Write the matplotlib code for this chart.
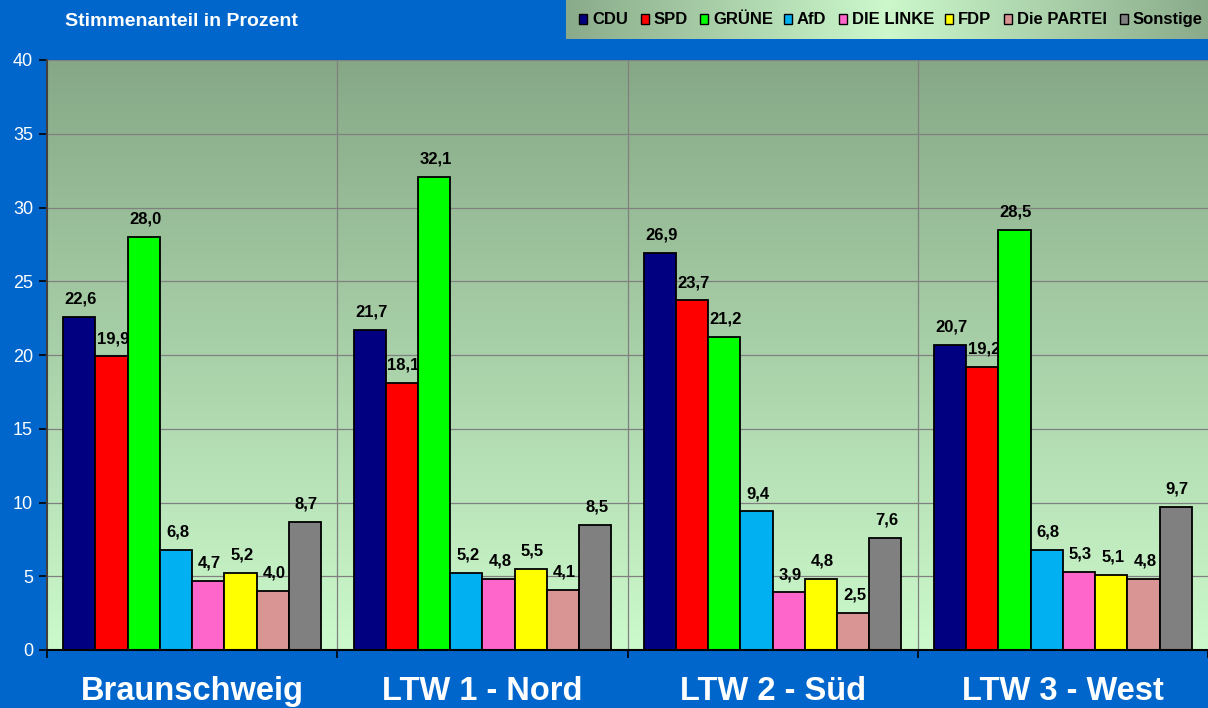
import numpy as np
import matplotlib
matplotlib.use("Agg")
import matplotlib.pyplot as plt
from matplotlib.colors import LinearSegmentedColormap
from matplotlib.patches import Rectangle

plt.rcParams['font.family'] = ['Liberation Sans', 'DejaVu Sans']

categories = ["Braunschweig", "LTW 1 - Nord", "LTW 2 - Süd", "LTW 3 - West"]
parties = ["CDU", "SPD", "GRÜNE", "AfD", "DIE LINKE", "FDP", "Die PARTEI", "Sonstige"]
colors = ["#000080", "#ff0000", "#00ff00", "#00b0f0", "#ff66cc", "#ffff00", "#d99594", "#808080"]
values = {
    "CDU":        [22.6, 21.7, 26.9, 20.7],
    "SPD":        [19.9, 18.1, 23.7, 19.2],
    "GRÜNE":      [28.0, 32.1, 21.2, 28.5],
    "AfD":        [6.8, 5.2, 9.4, 6.8],
    "DIE LINKE":  [4.7, 4.8, 3.9, 5.3],
    "FDP":        [5.2, 5.5, 4.8, 5.1],
    "Die PARTEI": [4.0, 4.1, 2.5, 4.8],
    "Sonstige":   [8.7, 8.5, 7.6, 9.7],
}
yticks = [0, 5, 10, 15, 20, 25, 30, 35, 40]

W, H = 1208, 708
fig = plt.figure(figsize=(W/100, H/100), dpi=100)
fig.patch.set_facecolor("#0066cc")

ax = fig.add_axes([47/W, 58/H, 1161/W, 590/H])
grad = LinearSegmentedColormap.from_list("g", ["#ccfacc", "#86a886"])
ax.imshow(np.linspace(0, 1, 256).reshape(-1, 1), cmap=grad, aspect='auto',
          extent=[0, 1, 0, 1], transform=ax.transAxes, zorder=0, origin='lower')

n = len(parties)
bw = 0.111
start = 0.5 - n * bw / 2
x = np.arange(len(categories))
for i, p in enumerate(parties):
    xs = x + start + (i + 0.5) * bw
    ax.bar(xs, values[p], width=bw, color=colors[i], edgecolor="black", linewidth=1.3, zorder=3)
    for xi, v in zip(xs, values[p]):
        ax.text(xi + 0.005, v + 0.7, f"{v:.1f}".replace(".", ","), ha="center", va="bottom",
                fontsize=12, fontweight="bold", color="black", zorder=2.5)

ax.set_xlim(0, 1161 / 290.5)
ax.set_ylim(0, 40)
ax.set_yticks(yticks)
ax.set_yticklabels([str(t) for t in yticks], color="white", fontsize=13)
ax.set_xticks([0, 1, 2, 3, 4])
ax.set_xticklabels([])
ax.tick_params(axis='y', length=6, color="black", width=1.2, pad=4)
ax.tick_params(axis='x', length=6, color="black", width=1.2, direction='out')
for yv in yticks[1:]:
    ax.axhline(yv, color="#808080", linewidth=0.9, zorder=1)
for xv in [1, 2, 3]:
    ax.axvline(xv, color="#808080", linewidth=0.9, zorder=1)
for s in ["top", "right"]:
    ax.spines[s].set_visible(False)
ax.spines["left"].set_color("#404040")
ax.spines["left"].set_linewidth(1.5)
ax.spines["bottom"].set_color("black")
ax.spines["bottom"].set_linewidth(1.5)
ax.spines["left"].set_zorder(5)
ax.spines["bottom"].set_zorder(5)

for i, c in enumerate(categories):
    ax.text(i + 0.5, -0.07, c, transform=ax.get_xaxis_transform(), ha="center", va="center",
            fontsize=23.5, fontweight="bold", color="white")

fig.text(65/W, 1 - 22/H, "Stimmenanteil in Prozent", ha="left", va="center",
         fontsize=14, fontweight="bold", color="white")

# legend box with horizontal gradient
lx0 = 566
lax = fig.add_axes([lx0/W, 1 - 39/H, (W - lx0)/W, 39/H])
lgrad = LinearSegmentedColormap.from_list("lg", ["#8aab8a", "#ccf8cc", "#8aab8a"])
lax.imshow(np.linspace(0, 1, 256).reshape(1, -1), cmap=lgrad, aspect='auto',
           extent=[0, 1, 0, 1], zorder=0)
lax.set_xlim(0, 1); lax.set_ylim(0, 1)
lax.axis("off")
sq_x = [579, 641, 700, 784, 839, 945, 1004, 1120]
lw = W - lx0
for i, p in enumerate(parties):
    px = (sq_x[i] - lx0) / lw
    lax.add_patch(Rectangle((px, 15 / 39), 8 / lw, 10 / 39, facecolor=colors[i],
                            edgecolor="black", linewidth=1.0, zorder=2))
    lax.text(px + 13 / lw, 0.49, p, ha="left", va="center", fontsize=12,
             fontweight="bold", color="black", zorder=2)

fig.savefig("out.png", dpi=100, facecolor=fig.get_facecolor())
